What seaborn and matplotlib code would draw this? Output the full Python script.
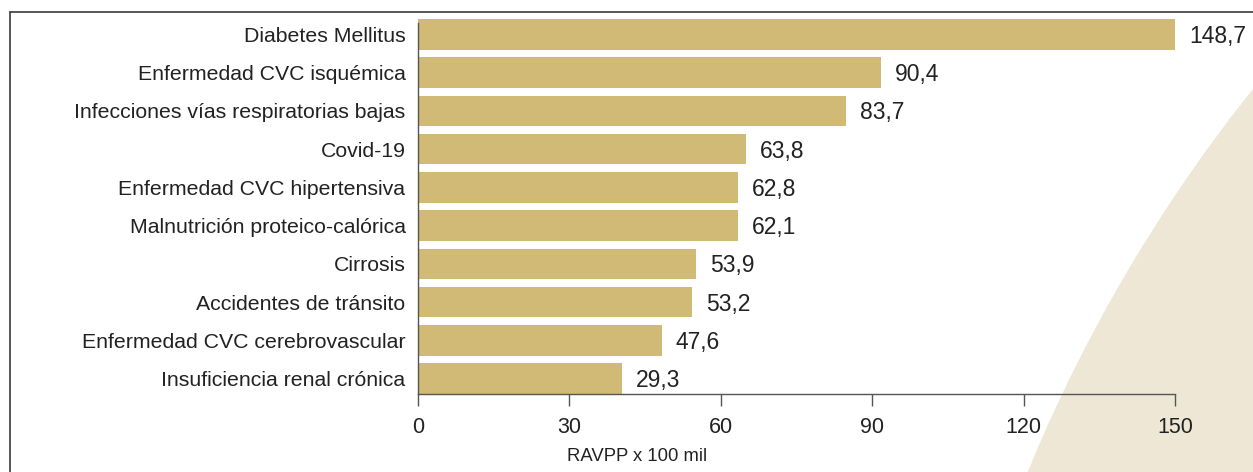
import matplotlib
matplotlib.use("Agg")
import matplotlib.pyplot as plt
import matplotlib.patches as mpatches
from matplotlib.lines import Line2D
import seaborn as sns
import pandas as pd

# ---- data ----
categories = [
    "Diabetes Mellitus",
    "Enfermedad CVC isquémica",
    "Infecciones vías respiratorias bajas",
    "Covid-19",
    "Enfermedad CVC hipertensiva",
    "Malnutrición proteico-calórica",
    "Cirrosis",
    "Accidentes de tránsito",
    "Enfermedad CVC cerebrovascular",
    "Insuficiencia renal crónica",
]
# bar lengths as drawn in the picture
bar_values = [150.0, 91.7, 84.8, 65.0, 63.4, 63.4, 55.1, 54.3, 48.3, 40.4]
# printed value labels
value_labels = ["148,7", "90,4", "83,7", "63,8", "62,8", "62,1", "53,9", "53,2", "47,6", "29,3"]
x_ticks = [0, 30, 60, 90, 120, 150]
x_label = "RAVPP x 100 mil"

df = pd.DataFrame({"cat": categories, "val": bar_values})

sns.set_theme(style="white")
plt.rcParams["font.family"] = ["Liberation Sans", "DejaVu Sans"]

BAR = "#D1B976"
TXT = "#222222"
W, H = 1253, 472
fig = plt.figure(figsize=(W / 100, H / 100), dpi=100)
fig.patch.set_facecolor("white")

# decorative background circle (pixel coords, origin bottom-left)
circ = mpatches.Circle((2479, H - 1068), 1569, transform=None,
                       facecolor="#EFE7D6", edgecolor="none", zorder=-5)
fig.add_artist(circ)

# frame lines (top and left)
fig.add_artist(Line2D([10 / W, 1], [1 - 12 / H, 1 - 12 / H], transform=fig.transFigure,
                      color="#3a3a3a", lw=1.2, zorder=-1))
fig.add_artist(Line2D([10 / W, 10 / W], [0, 1 - 12 / H], transform=fig.transFigure,
                      color="#3a3a3a", lw=1.2, zorder=-1))

ax_l, ax_r, ax_t, ax_b = 418, 1175, 19, 394
ax = fig.add_axes([ax_l / W, 1 - ax_b / H, (ax_r - ax_l) / W, (ax_b - ax_t) / H])
ax.set_facecolor("none")
ax.set_zorder(2)

sns.barplot(data=df, x="val", y="cat", orient="h", color=BAR, width=0.8,
            saturation=1, ax=ax, zorder=2, linewidth=0, edgecolor="none")

ax.set_xlim(0, 150)
ax.set_ylim(9.4, -0.4)
ax.set_xticks(x_ticks)
ax.set_xticklabels([str(t) for t in x_ticks])
ax.set_ylabel("")
ax.set_xlabel(x_label, fontsize=13.3, color=TXT)
ax.xaxis.set_label_coords((637 - ax_l) / (ax_r - ax_l), -0.143)

for i, (v, lab) in enumerate(zip(bar_values, value_labels)):
    ax.annotate(lab, (v, i), xytext=(10, -1.5), textcoords="offset points",
                ha="left", va="center", fontsize=16.5, color=TXT, zorder=3)

ax.tick_params(axis="y", length=0, pad=9, labelsize=15.3, labelcolor=TXT)
ax.tick_params(axis="x", length=8.5, width=1, color="#555555", pad=8,
               labelsize=15.5, labelcolor=TXT, bottom=True)

for s in ["top", "right"]:
    ax.spines[s].set_visible(False)
for s in ["left", "bottom"]:
    ax.spines[s].set_color("#555555")
    ax.spines[s].set_linewidth(1)
ax.spines["left"].set_bounds(9.4, -0.3)

fig.savefig("out.png", dpi=100, facecolor="white")
